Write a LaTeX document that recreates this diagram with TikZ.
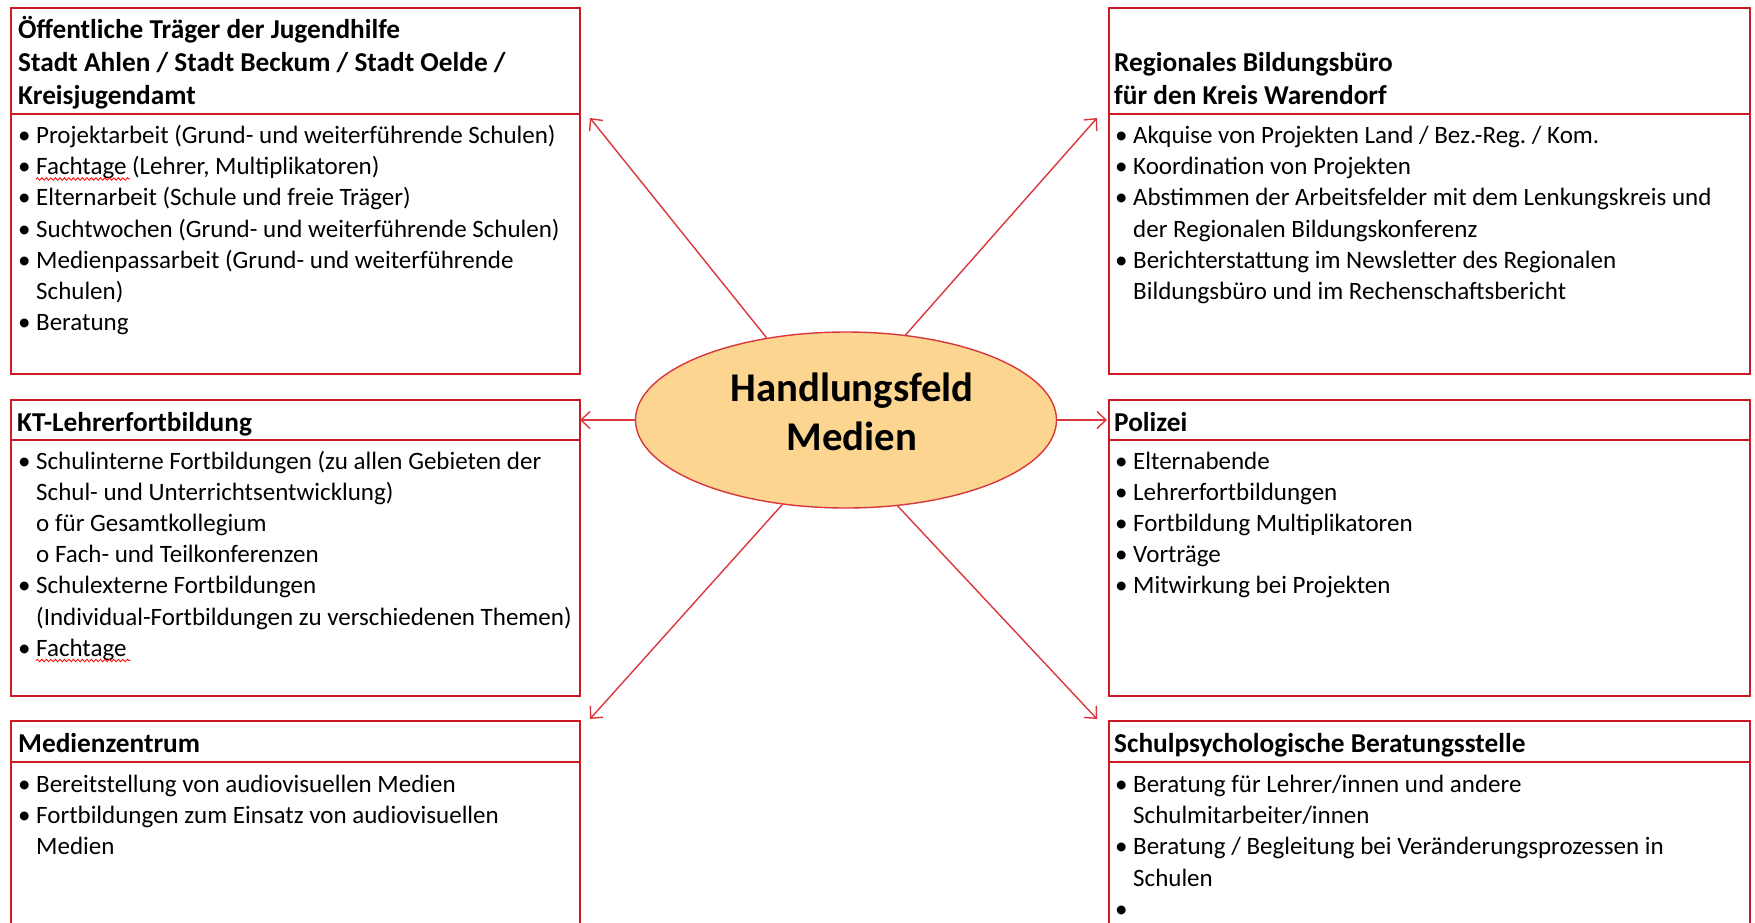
\documentclass[tikz,border=0pt]{standalone}
\usepackage{fontspec}
\setmainfont{Carlito}
\frenchspacing
\usetikzlibrary{arrows.meta,shapes.geometric,decorations.pathmorphing}
\definecolor{boxred}{RGB}{205,25,35}
\definecolor{arrred}{RGB}{218,55,60}
\definecolor{ellfill}{RGB}{252,214,145}
\newcommand\hdfont{\fontsize{27.3pt}{33.2pt}\selectfont\bfseries}
\newcommand\bdfont{\fontsize{25pt}{31.2pt}\selectfont}
\newcommand\ctfont{\fontsize{40.8pt}{49.8pt}\selectfont\bfseries}
\newcommand\bul{\makebox[18pt][l]{•}}
\newenvironment{blist}{\bdfont\begin{tabular}[t]{@{}l@{}l@{}}}{\end{tabular}}
\newenvironment{hlist}{\hdfont\begin{tabular}[t]{@{}l@{}}}{\end{tabular}}
\begin{document}
\frenchspacing
\begin{tikzpicture}[x=1pt,y=-1pt,
  box/.style={draw=boxred, line width=1.8pt, inner sep=0pt, anchor=north west},
  sepline/.style={draw=boxred, line width=1.8pt},
  txt/.style={inner sep=0pt, anchor=base west},
  ellnode/.style={ellipse, draw=arrred, line width=1.4pt, fill=ellfill, inner sep=0pt,
     minimum width=421pt, minimum height=176pt},
  arr/.style={draw=arrred, line width=1.4pt, -{Straight Barb[length=9pt,width=17pt,line width=1.4pt]}},
  squig/.style={draw=red, line width=0.8pt, decorate, decoration={snake, amplitude=1.3pt, segment length=4.5pt}}]
\useasboundingbox (0,0) rectangle (1755,922);
\fill[white] (0,0) rectangle (1755,922);
\clip (0,0) rectangle (1755,922);

% boxes
\node[box, minimum width=569pt, minimum height=366pt] (tl) at (10,7) {};
\node[box, minimum width=641pt, minimum height=366pt] (tr) at (1108,7) {};
\node[box, minimum width=569pt, minimum height=296pt] (ml) at (10,399) {};
\node[box, minimum width=641pt, minimum height=296pt] (mr) at (1108,399) {};
\node[box, minimum width=569pt, minimum height=240pt] (bl) at (10,720) {};
\node[box, minimum width=641pt, minimum height=240pt] (br) at (1108,720) {};

\draw[sepline] (tl.west |- 0,114) -- (tl.east |- 0,114);
\draw[sepline] (tr.west |- 0,114) -- (tr.east |- 0,114);
\draw[sepline] (ml.west |- 0,440) -- (ml.east |- 0,440);
\draw[sepline] (mr.west |- 0,440) -- (mr.east |- 0,440);
\draw[sepline] (bl.west |- 0,762) -- (bl.east |- 0,762);
\draw[sepline] (br.west |- 0,762) -- (br.east |- 0,762);

% headers
\node[txt] (tlh) at (18,38) {\begin{hlist}Öffentliche Träger der Jugendhilfe\\Stadt Ahlen / Stadt Beckum / Stadt Oelde /\\Kreisjugendamt\end{hlist}};
\node[txt] (trh) at (1114,71.5) {\begin{hlist}Regionales Bildungsbüro\\für den Kreis Warendorf\end{hlist}};
\node[txt] (mlh) at (17,431) {\begin{hlist}KT-Lehrerfortbildung\end{hlist}};
\node[txt] (mrh) at (1114,431) {\begin{hlist}Polizei\end{hlist}};
\node[txt] (blh) at (18,752) {\begin{hlist}Medienzentrum\end{hlist}};
\node[txt] (brh) at (1114,752) {\begin{hlist}Schulpsychologische Beratungsstelle\end{hlist}};

% bodies
\node[txt] (tlb) at (18,143.5) {\begin{blist}
\bul & Projektarbeit (Grund- und weiterführende Schulen)\\
\bul & Fachtage (Lehrer, Multiplikatoren)\\
\bul & Elternarbeit (Schule und freie Träger)\\
\bul & Suchtwochen (Grund- und weiterführende Schulen)\\
\bul & Medienpassarbeit (Grund- und weiterführende\\
 & Schulen)\\
\bul & Beratung
\end{blist}};
\node[txt] (trb) at (1115,143.5) {\begin{blist}
\bul & Akquise von Projekten Land / Bez.-Reg. / Kom.\\
\bul & Koordination von Projekten\\
\bul & Abstimmen der Arbeitsfelder mit dem Lenkungskreis und\\
 & der Regionalen Bildungskonferenz\\
\bul & Berichterstattung im Newsletter des Regionalen\\
 & Bildungsbüro und im Rechenschaftsbericht
\end{blist}};
\node[txt] (mlb) at (18,469) {\begin{blist}
\bul & Schulinterne Fortbildungen (zu allen Gebieten der\\
 & Schul- und Unterrichtsentwicklung)\\
 & o für Gesamtkollegium\\
 & o Fach- und Teilkonferenzen\\
\bul & Schulexterne Fortbildungen\\
 & (Individual-Fortbildungen zu verschiedenen Themen)\\
\bul & Fachtage
\end{blist}};
\node[txt] (mrb) at (1115,469) {\begin{blist}
\bul & Elternabende\\
\bul & Lehrerfortbildungen\\
\bul & Fortbildung Multiplikatoren\\
\bul & Vorträge\\
\bul & Mitwirkung bei Projekten
\end{blist}};
\node[txt] (blb) at (18,792.5) {\begin{blist}
\bul & Bereitstellung von audiovisuellen Medien\\
\bul & Fortbildungen zum Einsatz von audiovisuellen\\
 & Medien
\end{blist}};
\node[txt] (brb) at (1115,792.5) {\begin{blist}
\bul & Beratung für Lehrer/innen und andere\\
 & Schulmitarbeiter/innen\\
\bul & Beratung / Begleitung bei Veränderungsprozessen in\\
 & Schulen\\
\bul & \strut
\end{blist}};

% spelling squiggles
\draw[squig] (36,179) -- (130,179);
\draw[squig] (36,660.5) -- (130,660.5);

% centre
\node[ellnode] (hf) at (846,420) {};
\node[inner sep=0pt, anchor=base] (hft) at (852,401) {\ctfont\begin{tabular}[t]{@{}c@{}}Handlungsfeld\\Medien\end{tabular}};

% arrow tips
\coordinate (tTL) at (590,118);
\coordinate (tTR) at (1097,118);
\coordinate (tML) at (580,420);
\coordinate (tMR) at (1107,420);
\coordinate (tBL) at (590,719);
\coordinate (tBR) at (1097,719);

\draw[arr] (hf.134) -- (tTL);
\draw[arr] (hf.55) -- (tTR);
\draw[arr] (hf.west) -- (tML);
\draw[arr] (hf.east) -- (tMR);
\draw[arr] (hf.233) -- (tBL);
\draw[arr] (hf.301) -- (tBR);
\end{tikzpicture}
\end{document}
